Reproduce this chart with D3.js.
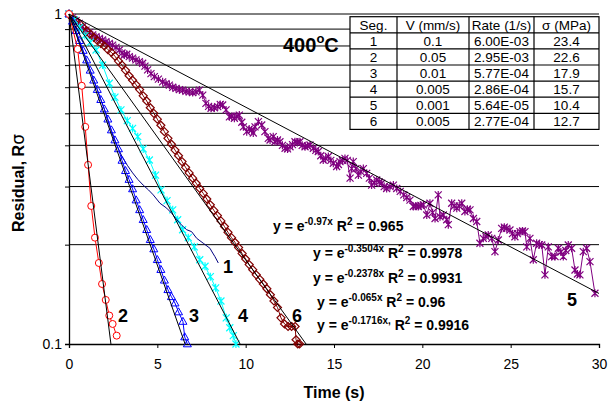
<!DOCTYPE html>
<html><head><meta charset="utf-8">
<script src="https://cdn.jsdelivr.net/npm/d3@7"></script>
<style>body{margin:0;background:#fff}svg{display:block;font-family:"Liberation Sans",Arial,sans-serif}</style>
</head><body><svg id="c" width="610" height="408"></svg>
<script>
// ---------- data ----------
const xTicks = [0, 5, 10, 15, 20, 25, 30];
const yGrid = [1, 0.9, 0.8, 0.7, 0.6, 0.5, 0.4, 0.3, 0.2];
const yTicks = [1, 0.9, 0.8, 0.7, 0.6, 0.5, 0.4, 0.3, 0.2, 0.1];
const yTickLabels = ["1", "0.1"];

// Seg 2 (red circles)
const s2T = [0, 0.49, 0.72, 0.92, 1.08, 1.26, 1.47, 1.69, 1.87, 2.08, 2.28, 2.47, 2.70];
const s2R = [1, 0.783, 0.606, 0.455, 0.349, 0.262, 0.21, 0.176, 0.152, 0.136, 0.122, 0.115, 0.106];
// Seg 3 (blue triangles)
const s3T = [0,0.2,0.4,0.6,0.8,1.0,1.2,1.4,1.6,1.8,2.0,2.2,2.4,2.6,2.8,3.0,3.2,3.4,3.6,3.8,4.0,4.2,4.4,4.6,4.8,5.0,5.2,5.4,5.6,5.8,6.0,6.2,6.45,6.55,6.7];
const s3R = [1,0.95,0.89,0.83,0.775,0.725,0.675,0.63,0.59,0.55,0.515,0.48,0.445,0.415,0.39,0.36,0.335,0.315,0.295,0.273,0.255,0.238,0.222,0.207,0.194,0.18,0.168,0.156,0.146,0.139,0.133,0.125,0.117,0.105,0.1];
// Seg 1 (navy line)
const s1T = [0,0.4,0.8,1.2,1.6,2.0,2.4,2.7,3.0,3.3,3.6,3.9,4.2,4.5,4.77,5.15,5.53,5.81,6.05,6.28,6.5,6.66,6.94,7.23,7.6,7.98,8.1,8.26,8.45];
const s1R = [1,0.875,0.77,0.675,0.59,0.515,0.44,0.40,0.37,0.348,0.33,0.315,0.303,0.293,0.283,0.267,0.258,0.249,0.24,0.232,0.226,0.222,0.219,0.209,0.202,0.195,0.19,0.184,0.176];
// Seg 4 (cyan stars)
const s4T = [0,0.3,0.6,0.9,1.2,1.53,1.9,2.28,2.6,2.94,3.3,3.6,3.89,4.2,4.55,4.9,5.21,5.55,5.87,6.15,6.43,6.75,7.09,7.4,7.7,8.0,8.3,8.6,8.9,9.1,9.3,9.45];
const s4R = [1,0.96,0.91,0.86,0.82,0.778,0.70,0.617,0.56,0.512,0.475,0.45,0.425,0.39,0.361,0.325,0.293,0.272,0.255,0.238,0.222,0.21,0.197,0.18,0.172,0.16,0.148,0.135,0.12,0.112,0.106,0.1];
// Seg 6 (brown diamonds)
const s6T = [0,0.2,0.4,0.6,0.8,1.0,1.2,1.4,1.6,1.8,2.0,2.2,2.4,2.6,2.8,3.0,3.2,3.4,3.6,3.8,4.0,4.2,4.4,4.6,4.8,5.0,5.2,5.4,5.6,5.8,6.0,6.2,6.4,6.6,6.8,7.0,7.2,7.4,7.6,7.8,8.0,8.2,8.4,8.6,8.8,9.0,9.2,9.4,9.6,9.8,10.0,10.2,10.4,10.6,10.8,11.0,11.2,11.4,11.6,11.8,12.0,12.2,12.4,12.6,12.8,12.85,12.95,13.05];
const s6R = [1,0.97,0.955,0.935,0.91,0.89,0.868,0.85,0.832,0.815,0.8,0.78,0.765,0.745,0.72,0.70,0.675,0.65,0.63,0.61,0.59,0.565,0.545,0.52,0.50,0.48,0.46,0.44,0.42,0.403,0.387,0.372,0.357,0.343,0.33,0.318,0.307,0.296,0.286,0.275,0.264,0.254,0.245,0.236,0.227,0.218,0.21,0.203,0.196,0.188,0.181,0.174,0.168,0.162,0.157,0.152,0.147,0.141,0.135,0.129,0.12,0.115,0.113,0.113,0.113,0.103,0.1,0.1];
// Seg 5 (purple stars)
const s5T = [0,0.2,0.4,0.58,0.77,0.96,1.15,1.34,1.53,1.72,1.9,2.09,2.28,2.47,2.66,2.85,3.0,3.13,3.27,3.41,3.6,3.79,3.98,4.17,4.3,4.45,4.64,4.83,5.06,5.3,5.49,5.68,5.87,6.06,6.25,6.43,6.62,6.81,7.0,7.19,7.38,7.57,7.75,7.9,8.04,8.23,8.42,8.56,8.70,8.89,9.08,9.22,9.36,9.5,9.64,9.78,9.87,10.06,10.2,10.34,10.43,10.53,10.72,10.91,11.09,11.28,11.38,11.56,11.66,11.8,11.94,12.08,12.23,12.37,12.51,12.65,12.79,12.93,13.07,13.2,13.36,13.5,13.64,13.83,13.97,14.11,14.25,14.39,14.53,14.68,14.82,14.96,15.15,15.25,15.34,15.48,15.62,15.75,15.91,16.0,16.09,16.24,16.38,16.52,16.66,16.85,17.0,17.13,17.28,17.42,17.56,17.70,17.84,17.98,18.17,18.36,18.55,18.75,18.95,19.12,19.30,19.49,19.63,19.77,19.92,20.06,20.25,20.43,20.58,20.72,20.90,21.0,21.19,21.38,21.47,21.66,21.8,21.95,22.09,22.23,22.41,22.55,22.70,22.89,23.08,23.26,23.45,23.6,23.73,23.93,24.11,24.30,24.49,24.64,24.78,24.96,25.1,25.24,25.38,25.53,25.67,25.81,25.91,26.09,26.28,26.47,26.62,26.76,26.94,27.13,27.32,27.51,27.70,27.84,27.98,28.12,28.26,28.45,28.64,28.78,28.92,29.11,29.30,29.49,29.77];
const s5R = [1,0.975,0.955,0.937,0.915,0.894,0.878,0.864,0.853,0.844,0.834,0.824,0.815,0.805,0.792,0.778,0.762,0.751,0.755,0.743,0.735,0.726,0.717,0.709,0.695,0.677,0.66,0.646,0.635,0.623,0.615,0.609,0.6,0.595,0.59,0.588,0.583,0.581,0.578,0.581,0.588,0.568,0.536,0.525,0.518,0.52,0.524,0.532,0.53,0.512,0.488,0.49,0.483,0.49,0.494,0.47,0.455,0.44,0.448,0.445,0.436,0.455,0.472,0.461,0.44,0.42,0.415,0.425,0.41,0.415,0.41,0.40,0.392,0.39,0.396,0.402,0.41,0.408,0.41,0.4,0.396,0.398,0.401,0.392,0.386,0.383,0.372,0.361,0.365,0.37,0.36,0.353,0.345,0.35,0.357,0.36,0.365,0.36,0.318,0.34,0.357,0.34,0.325,0.333,0.34,0.329,0.318,0.303,0.308,0.314,0.31,0.307,0.3,0.296,0.3,0.303,0.296,0.29,0.283,0.278,0.273,0.261,0.262,0.261,0.263,0.264,0.246,0.267,0.25,0.24,0.283,0.243,0.246,0.238,0.23,0.267,0.262,0.258,0.262,0.267,0.252,0.256,0.255,0.24,0.235,0.202,0.209,0.212,0.214,0.209,0.1905,0.2066,0.224,0.226,0.224,0.2216,0.216,0.2114,0.216,0.219,0.22,0.219,0.197,0.209,0.18,0.202,0.2,0.1995,0.162,0.197,0.184,0.184,0.195,0.19,0.184,0.192,0.1995,0.195,0.1676,0.163,0.162,0.1905,0.195,0.1776,0.1425];

// trendline exponents (from the equations)
const fitK = [0.97, 0.3504, 0.2378, 0.065, 0.1716];
const fitLabels = ["-0.97x", "-0.3504x", "-0.2378x", "-0.065x", "-0.1716x"];
const fitR2 = ["0.965", "0.9978", "0.9931", "0.96", "0.9916"];
const fitSep = ["", "", "", "", ","];

// table
const tabHead = ["Seg.", "V (mm/s)", "Rate (1/s)", "\u03c3 (MPa)"];
const tabSeg = ["1", "2", "3", "4", "5", "6"];
const tabV = ["0.1", "0.05", "0.01", "0.005", "0.001", "0.005"];
const tabRate = ["6.00E-03", "2.95E-03", "5.77E-04", "2.86E-04", "5.64E-05", "2.77E-04"];
const tabSigma = ["23.4", "22.6", "17.9", "15.7", "10.4", "12.7"];

const segLabels = ["1", "2", "3", "4", "5", "6"];

// ---------- drawing ----------
const svg = d3.select("#c");
const L = 69, R = 599, T = 14, B = 344;
const x = d3.scaleLinear().domain([0, 30]).range([L, R]);
const y = d3.scaleLog().domain([0.1, 1]).range([B, T]);

svg.append("rect").attr("width", 610).attr("height", 408).attr("fill", "#fff");

// gridlines
svg.append("g").selectAll("line").data(yGrid).join("line")
  .attr("x1", L).attr("x2", R).attr("y1", d => y(d)).attr("y2", d => y(d))
  .attr("stroke", "#000").attr("stroke-width", 1);

// axes
const yAx = svg.append("g").attr("transform", `translate(${L},0)`)
  .call(d3.axisLeft(y).tickValues(yTicks).tickSize(4).tickFormat(d => d === 1 ? "1" : d === 0.1 ? "0.1" : ""));
const xAx = svg.append("g").attr("transform", `translate(0,${B})`)
  .call(d3.axisBottom(x).tickValues(xTicks).tickSize(4).tickFormat(d3.format("d")));
[yAx, xAx].forEach(g => {
  g.select(".domain").attr("stroke", "#000").attr("stroke-width", 1.3);
  g.selectAll(".tick line").attr("stroke", "#000");
  g.selectAll("text").attr("font-size", 14).attr("fill", "#000").attr("font-family", "Liberation Sans, Arial, sans-serif");
});
xAx.selectAll(".tick line").attr("y2", 4);
xAx.selectAll("text").attr("y", 12).attr("dy", "0.95em");
yAx.selectAll("text").attr("x", -7);

const line = d3.line().x(d => x(d[0])).y(d => y(d[1]));
const zip = (a, b) => a.map((v, i) => [v, b[i]]);

function series(T_, R_, color, shape, w) {
  const pts = zip(T_, R_);
  svg.append("path").datum(pts).attr("d", line).attr("fill", "none").attr("stroke", color).attr("stroke-width", w || 1);
  if (!shape) return;
  const g = svg.append("g");
  pts.forEach(p => {
    const cx = x(p[0]), cy = y(p[1]);
    if (shape === "circle") g.append("circle").attr("cx", cx).attr("cy", cy).attr("r", 3.5).attr("fill", "#fff").attr("stroke", color).attr("stroke-width", 1);
    else if (shape === "tri") g.append("path").attr("d", `M${cx},${cy-4.2}L${cx+4},${cy+2.8}L${cx-4},${cy+2.8}Z`).attr("fill", "none").attr("stroke", color).attr("stroke-width", 1);
    else if (shape === "diamond") g.append("path").attr("d", `M${cx},${cy-4}L${cx+4},${cy}L${cx},${cy+4}L${cx-4},${cy}Z`).attr("fill", "none").attr("stroke", color).attr("stroke-width", 1.2);
    else if (shape === "star") { const s = 3.5; g.append("path").attr("d", `M${cx-s},${cy-s}L${cx+s},${cy+s}M${cx-s},${cy+s}L${cx+s},${cy-s}M${cx},${cy-s-0.5}L${cx},${cy+s+0.5}`).attr("fill", "none").attr("stroke", color).attr("stroke-width", 1.2); }
  });
}
series(s5T, s5R, "#800080", "star");
series(s6T, s6R, "#800000", "diamond");
series(s4T, s4R, "#00FFFF", "star");
series(s1T, s1R, "#000080", null, 1);
series(s3T, s3R, "#0000FF", "tri");
series(s2T, s2R, "#FF0000", "circle");

// trendlines
fitK.forEach(k => {
  const tEnd = Math.min(30, Math.log(10) / k);
  svg.append("line").attr("x1", x(0)).attr("y1", y(1)).attr("x2", x(tEnd)).attr("y2", y(Math.exp(-k * tEnd)))
    .attr("stroke", "#000").attr("stroke-width", 1);
});

// equations
const eqPos = [[273, 231], [313, 258], [313, 283], [317, 307], [317, 330]];
fitLabels.forEach((lab, i) => {
  const t = svg.append("text").attr("x", eqPos[i][0]).attr("y", eqPos[i][1]).attr("font-size", 14).attr("font-weight", "bold").attr("fill", "#000");
  t.append("tspan").text("y = e");
  t.append("tspan").attr("dy", -6).attr("font-size", 10).text(lab + fitSep[i]);
  t.append("tspan").attr("dy", 6).text("\u00a0R");
  t.append("tspan").attr("dy", -6).attr("font-size", 10).text("2");
  t.append("tspan").attr("dy", 6).text(" = " + fitR2[i]);
});

// segment labels
const segPos = [[228, 273], [123, 322], [194, 322], [243, 322], [572, 306], [297, 322]];
segLabels.forEach((s, i) => {
  svg.append("text").attr("x", segPos[i][0]).attr("y", segPos[i][1]).attr("text-anchor", "middle")
    .attr("font-size", 18).attr("font-weight", "bold").text(s);
});

// 400°C
const tt = svg.append("text").attr("x", 283).attr("y", 52).attr("font-size", 20).attr("font-weight", "bold");
tt.append("tspan").text("400");
tt.append("tspan").attr("dy", -9).attr("font-size", 13).text("o");
tt.append("tspan").attr("dy", 9).text("C");

// table
const colX = [350, 397, 469, 534, 599];
const rowH = 16.1, tTop = 16.7;
const rows = [tabHead].concat(tabSeg.map((s, i) => [s, tabV[i], tabRate[i], tabSigma[i]]));
const tg = svg.append("g");
tg.append("rect").attr("x", colX[0]).attr("y", tTop).attr("width", colX[4] - colX[0]).attr("height", rowH * rows.length).attr("fill", "#fff").attr("stroke", "#000").attr("stroke-width", 1.2);
rows.forEach((r, ri) => {
  if (ri > 0) tg.append("line").attr("x1", colX[0]).attr("x2", colX[4]).attr("y1", tTop + ri * rowH).attr("y2", tTop + ri * rowH).attr("stroke", "#000").attr("stroke-width", 1.2);
  r.forEach((c, ci) => {
    tg.append("text").attr("x", (colX[ci] + colX[ci + 1]) / 2).attr("y", tTop + ri * rowH + 12.8)
      .attr("text-anchor", "middle").attr("font-size", 13.5).text(c);
  });
});
[1, 2, 3].forEach(ci => tg.append("line").attr("x1", colX[ci]).attr("x2", colX[ci]).attr("y1", tTop).attr("y2", tTop + rowH * rows.length).attr("stroke", "#000").attr("stroke-width", 1.2));

// axis titles
svg.append("text").attr("x", (L + R) / 2).attr("y", 398).attr("text-anchor", "middle").attr("font-size", 16).attr("font-weight", "bold").text("Time (s)");
svg.append("text").attr("transform", "translate(24,183) rotate(-90)").attr("text-anchor", "middle").attr("font-size", 16).attr("font-weight", "bold")
  .html('Residual, R<tspan font-weight="normal" font-size="17" font-family="DejaVu Sans">\u03c3</tspan>');
</script></body></html>
